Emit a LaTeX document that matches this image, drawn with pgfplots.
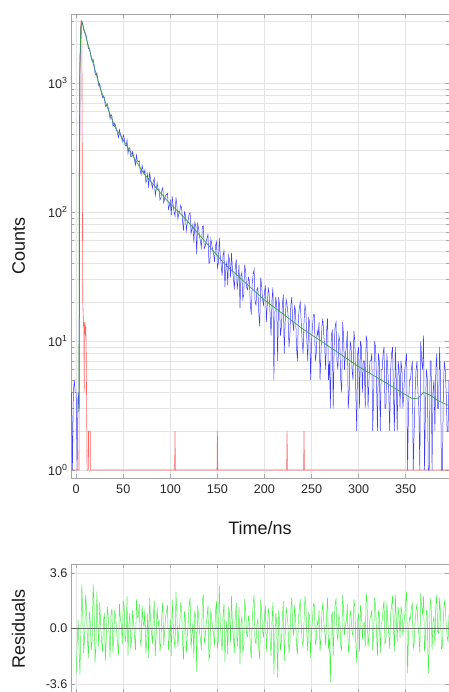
\documentclass[border=0pt]{standalone}
\usepackage{fontspec}
\setmainfont{Liberation Sans}
\usepackage{pgfplots}
\pgfplotsset{compat=1.18}
\usepackage{pgfplotstable}

\definecolor{decay}{RGB}{60,60,255}
\definecolor{irf}{RGB}{255,100,100}
\definecolor{fitc}{RGB}{60,160,70}
\definecolor{resc}{RGB}{70,240,70}
\definecolor{gridc}{RGB}{228,228,228}
\definecolor{axisc}{RGB}{165,165,165}

% decay counts (c) and weighted residuals (r)
\pgfplotstableread{
t c r
-5 4 nan
-4 1 nan
-3 4 nan
-2 5 nan
-1 4 nan
0 4 -2.9
1 1 nan
2 4 0.6
3 3 nan
4 1400 -3.0
5 2600 nan
6 3016 2.9
7 2862 0.8
8 2568 -1.6
9 2465 -0.5
10 2441 2.2
11 2256 1.3
12 2024 -0.8
13 1851 -1.9
14 1867 1.1
15 1727 0.4
16 1547 -1.4
17 1480 -0.7
18 1528 2.9
19 1393 1.5
20 1184 -2.2
21 1151 -1.1
22 1200 2.4
23 1061 0.2
24 957 -1.2
25 992 1.7
26 899 0.3
27 826 -0.9
28 772 -1.5
29 794 0.5
30 773 1.0
31 658 -2.1
32 667 -0.6
33 690 1.4
34 645 0.8
35 591 -0.3
36 527 -1.9
37 569 0.9
38 554 1.3
39 465 -1.6
40 470 -0.4
41 488 1.2
42 462 0.7
43 431 -0.2
44 401 -1.1
45 378 -1.7
46 434 1.6
47 403 0.6
48 385 0.2
49 352 -1.0
50 395 1.8
51 377 1.4
52 325 -0.9
53 326 -0.4
54 362 2.1
55 283 -1.8
56 313 0.4
57 315 1.0
58 268 -1.3
59 272 -0.6
60 294 1.2
61 272 0.3
62 252 -0.5
63 231 -1.4
64 276 1.9
65 250 0.7
66 245 0.8
67 250 1.6
68 210 -0.7
69 196 -1.2
70 230 1.5
71 210 0.5
72 199 0.1
73 212 1.3
74 169 -1.6
75 176 -0.8
76 197 1.0
77 154 -1.9
78 203 2.0
79 180 0.6
80 165 -0.3
81 153 -1.0
82 175 0.9
83 183 1.8
84 134 -1.8
85 149 -0.4
86 168 1.4
87 150 0.2
88 151 0.5
89 124 -1.5
90 128 -0.9
91 148 1.0
92 154 1.7
93 118 -1.1
94 127 -0.2
95 135 0.8
96 136 1.1
97 139 1.5
98 105 -1.4
99 111 -0.6
100 122 0.6
101 95 -1.8
102 132 1.9
103 114 0.4
104 100 -0.8
105 93 -1.3
106 130 2.4
107 112 0.9
108 89 -1.2
109 97 -0.2
110 101 0.3
111 113 1.7
112 107 1.3
113 84 -0.9
114 72 -2.0
115 100 1.1
116 95 0.7
117 72 -1.6
118 81 -0.5
119 87 0.3
120 97 1.6
121 99 2.0
122 68 -1.3
123 74 -0.4
124 80 0.4
125 58 -1.9
126 83 1.2
127 78 0.7
128 47 -2.8
129 81 1.5
130 75 0.9
131 65 -0.2
132 59 -0.7
133 53 -1.4
134 77 1.8
135 78 2.2
136 52 -1.0
137 54 -0.6
138 59 0.2
139 63 0.8
140 67 1.5
141 40 -2.0
142 41 -1.7
143 62 1.3
144 56 0.6
145 51 0.1
146 47 -0.4
147 41 -1.1
148 55 1.1
149 59 1.8
150 37 -1.3
151 40 -0.8
152 63 2.8
153 46 0.4
154 39 -0.6
155 32 -1.5
156 46 0.9
157 50 1.6
158 26 -2.2
159 37 -0.3
160 41 0.5
161 27 -1.7
162 46 1.4
163 42 0.9
164 31 -0.9
165 48 2.1
166 36 0.2
167 31 -0.6
168 25 -1.6
169 37 0.7
170 43 1.7
171 25 -1.2
172 30 -0.3
173 39 1.4
174 18 -2.3
175 32 0.3
176 34 0.8
177 21 -1.6
178 23 -1.1
179 39 1.9
180 35 1.2
181 26 -0.4
182 25 -0.5
183 31 0.8
184 29 0.4
185 19 -1.3
186 16 -1.9
187 28 0.5
188 33 1.6
189 36 2.2
190 20 -0.8
191 19 -1.0
192 25 0.3
193 26 0.6
194 16 -1.4
195 13 -2.0
196 31 1.9
197 27 1.1
198 21 -0.2
199 19 -0.5
200 24 0.7
201 27 1.5
202 14 -1.5
203 19 -0.3
204 26 1.3
205 23 0.9
206 16 -0.7
207 11 -1.8
208 21 0.5
209 26 1.7
210 5 -3.0
211 16 -0.6
212 22 1.0
213 19 0.4
214 7 -3.2
215 22 1.2
216 19 0.6
217 11 -1.4
218 13 -0.9
219 19 0.7
220 23 1.8
221 8 -2.1
222 14 -0.4
223 21 1.4
224 19 0.9
225 16 0.2
226 9 -1.6
227 11 -0.9
228 19 1.2
229 22 2.0
230 14 0.1
231 12 -0.5
232 19 1.5
233 17 0.8
234 9 -1.1
235 7 -1.7
236 15 0.6
237 18 1.3
238 20 1.9
239 14 0.3
240 10 -0.8
241 8 -1.2
242 14 0.4
243 19 2.1
244 17 1.4
245 10 -0.4
246 7 -1.5
247 15 1.0
248 14 0.8
249 5 -1.9
250 10 -0.3
251 13 0.6
252 16 1.6
253 16 1.5
254 7 -1.0
255 8 -0.7
256 12 0.5
257 11 0.2
258 14 1.2
259 5 -1.5
260 8 -0.6
261 13 1.0
262 15 1.7
263 11 0.4
264 9 -0.2
265 6 -1.1
266 12 0.9
267 15 2.0
268 5 -1.3
269 7 -0.6
270 3 -3.5
271 11 0.7
272 12 1.1
273 3 -1.8
274 9 0.3
275 13 1.6
276 14 1.9
277 7 -0.3
278 6 -0.8
279 11 0.9
280 10 0.6
281 5 -1.1
282 4 -1.4
283 14 2.2
284 11 1.3
285 6 -0.4
286 8 0.2
287 9 0.5
288 12 1.6
289 3 -1.6
290 4 -1.0
291 10 1.2
292 9 0.8
293 6 -0.2
294 5 -0.5
295 12 1.9
296 10 1.4
297 4 -1.0
298 2 -2.2
299 8 0.6
300 9 0.9
301 3 -1.5
302 10 1.5
303 9 1.0
304 4 -0.7
305 7 0.3
306 7 0.4
307 3 -1.2
308 11 2.3
309 10 1.7
310 3 -1.2
311 5 -0.5
312 7 0.7
313 7 0.8
314 8 1.2
315 2 -1.4
316 4 -0.4
317 10 2.0
318 9 1.5
319 5 -0.2
320 2 -1.8
321 8 1.1
322 7 0.8
323 2 -1.6
324 6 0.3
325 6 0.5
326 8 1.3
327 9 1.8
328 3 -1.0
329 3 -0.8
330 8 1.7
331 6 0.4
332 4 -0.3
333 2 -1.3
334 6 0.9
335 8 1.5
336 9 2.1
337 4 0.1
338 2 -1.5
339 9 2.2
340 5 0.6
341 2 -0.9
342 7 1.4
343 6 0.7
344 3 -0.6
345 7 1.4
346 6 1.1
347 3 -0.5
348 4 0.2
349 6 0.9
350 7 1.8
351 8 2.4
352 1 -2.9
353 3 -0.4
354 5 0.7
355 5 0.6
356 6 1.3
357 7 1.7
358 1 -1.3
359 2 -1.0
360 4 0.5
361 6 1.2
362 7 1.6
363 4 0.2
364 3 -0.4
365 1 -1.6
366 10 2.3
367 7 1.4
368 6 0.9
369 11 2.1
370 1 -1.5
371 3 -0.6
372 6 1.2
373 5 0.8
374 1 -2.9
375 1 -1.3
376 7 1.9
377 7 1.6
378 1 -1.4
379 4 0.4
380 5 0.8
381 2 -1.1
382 6 1.5
383 8 2.2
384 3 -0.2
385 3 -0.3
386 9 2.0
387 5 1.0
388 1 -1.3
389 1 -1.2
390 4 0.6
391 7 1.8
392 6 1.4
393 4 0.3
394 2 -0.5
395 2 -0.9
396 5 0.9
}\decaydata

% fitted curve
\pgfplotstableread{
t f
1.5 2.8
3.0 2.9
3.4 300
4 1500
5 2700
6 3000
8 2650
10 2335
12 2060
14 1820
17 1507
20 1262
25.5 910
30 746
35 598
41 458
50 361
60 274
71.5 200
84 157
96 124
106 105
117 87
127 71.7
137 59
147 48.6
157 40
170 32.8
185 26.1
200 20.8
215 17.2
230 14.2
242 12.2
260 10.0
280 7.96
299 6.4
315 5.45
330 4.69
345 4.03
357 3.57
363 3.6
369 4.0
376 3.8
383 3.5
390 3.3
396 3.15
}\fitdata

% instrument response
\pgfplotstableread{
t v
-5 1
3 1
4 1200
5 3000
6 2200
7 20
7.8 13
8.2 14
8.5 4
8.8 12
9.3 14
9.8 11
10.2 13
10.6 9
11.0 4
11.6 1
13.0 1
13.1 2
14.9 2
15.0 1
104.6 1
105 2
105.4 1
149.6 1
150 2
150.4 1
223.6 1
224 2
224.4 1
241.6 1
242 2
242.4 1
396 1
}\irfdata

\pgfplotsset{
  panel/.style={
    scale only axis, width=378pt, xmin=-5.5, xmax=396,
    xtick={0,50,...,350},
    axis line style={axisc}, tick style={axisc, line width=0.6pt},
    major tick length=4pt, minor tick length=3pt, tick align=inside,
    grid style={gridc, line width=0.6pt},
    tick label style={font=\fontsize{12.6}{14}\selectfont, text=black!85},
    label style={font=\fontsize{18}{20}\selectfont, text=black!90},
    ylabel style={at={(axis description cs:-0.1217,0.5)}, anchor=base},
  }
}

\begin{document}
\begin{tikzpicture}[x=1pt,y=1pt]
\begin{axis}[panel, at={(71pt,-478pt)}, anchor=south west, height=464pt,
    ymode=log, ymin=0.867, ymax=3427,
    ytick={1,10,100,1000},
    yticklabels={10\textsuperscript{0},10\textsuperscript{1},10\textsuperscript{2},10\textsuperscript{3}},
    minor ytick={2,3,4,5,6,7,8,9,20,30,40,50,60,70,80,90,200,300,400,500,600,700,800,900,2000,3000},
    xticklabels={0,50,100,150,200,250,300,350},
    xticklabel style={yshift=-3pt},
    grid=both, minor grid style={gridc, line width=0.6pt},
    xlabel={Time/ns}, ylabel={Counts},
    xlabel style={at={(axis description cs:0.5,-0.1228)}, anchor=base},
]
\addplot[irf, line width=0.6pt] table[x=t, y=v] {\irfdata};
\addplot[decay, line width=0.5pt] table[x=t, y=c] {\decaydata};
\addplot[fitc, line width=0.7pt] table[x=t, y=f] {\fitdata};
\end{axis}

\begin{axis}[panel, at={(71pt,-693pt)}, anchor=south west, height=129pt,
    ymin=-4.19, ymax=4.19,
    ytick={-3.6,0,3.6}, yticklabels={-3.6,0.0,3.6},
    xticklabels={}, grid=major,
    ylabel={Residuals},
]
\addplot[resc, line width=0.5pt] table[x=t, y=r] {\decaydata};
\addplot[black!60, line width=0.7pt] coordinates {(-5.5,0) (396,0)};
\end{axis}
\pgfresetboundingbox
\path[use as bounding box] (0,-692) rectangle (448,0);
\end{tikzpicture}
\end{document}
